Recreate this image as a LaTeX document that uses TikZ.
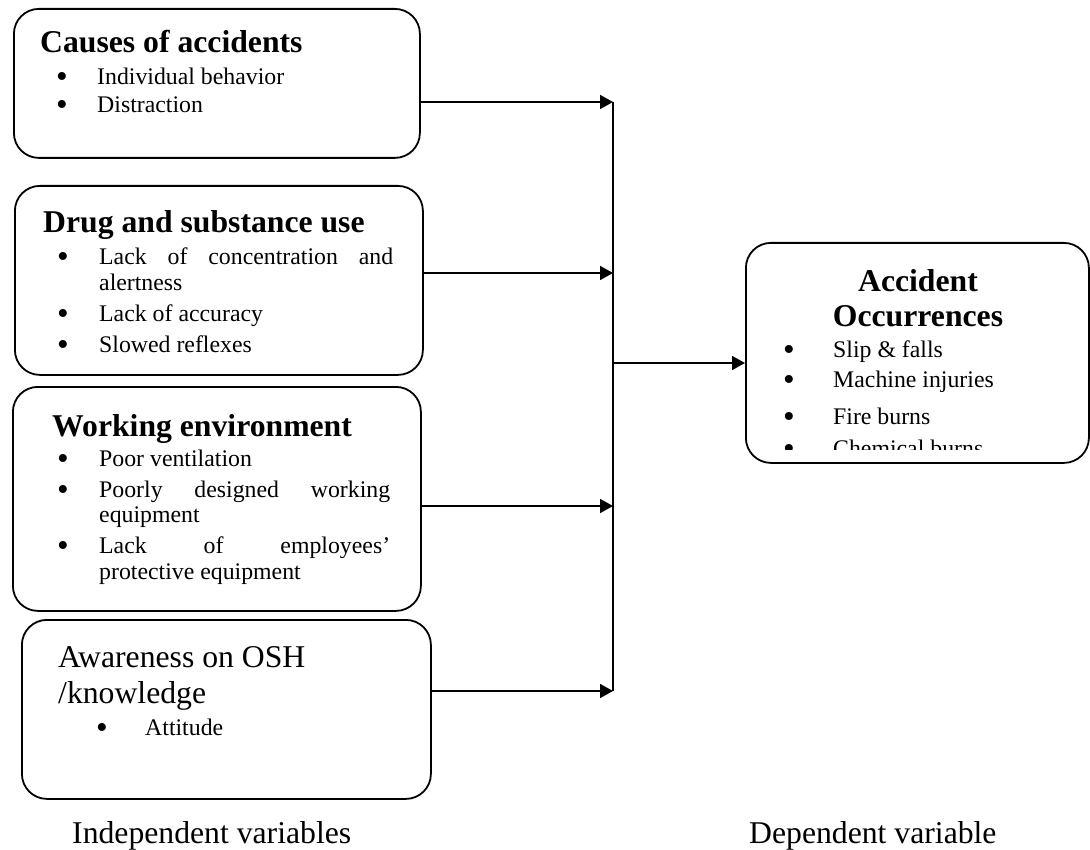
\documentclass[tikz,border=0pt]{standalone}
\usepackage{fontspec}
\setmainfont{Liberation Serif}
\usetikzlibrary{arrows.meta,positioning}

\newcommand{\headfont}{\fontsize{31.7pt}{35pt}\selectfont\bfseries}
\newcommand{\bigfont}{\fontsize{31.7pt}{36pt}\selectfont}
\newcommand{\itemfont}{\fontsize{23.8pt}{25.5pt}\selectfont}
\newcommand{\bulletmark}{\smash{\raisebox{-3pt}{\scalebox{1.4}{\textbullet}}}}
% one bullet item with hanging indent
\newcommand{\bul}[2][42pt]{\par\noindent\hangindent=#1\hangafter=1\makebox[#1][l]{\bulletmark}#2}
\newcommand{\itemlist}[3]{\parbox[t]{#1}{\tolerance=10000\hyphenpenalty=10000\setlength{\parskip}{#2}#3}}

\tikzset{
	varbox/.style={draw, line width=1.8pt, rounded corners=25pt, anchor=north west, inner sep=0pt},
	txt/.style={anchor=base west, inner sep=0pt},
	flow/.style={line width=1.8pt, -{Triangle[length=13pt,width=14pt]}},
	bus/.style={line width=1.8pt}
}

\begin{document}
\begin{tikzpicture}[x=1pt,y=-1pt]
	\useasboundingbox (0,0) rectangle (1090,850);

	% independent variables
	\node[varbox, minimum width=406pt, minimum height=149pt] (causes) at (13,8) {};
	\node[txt] (causeshead) at (40,53) {\headfont Causes of accidents};
	\node[txt] (causesitems) at (56,85) {\itemfont\itemlist{335pt}{2.5pt}{%
		\bul[41pt]{Individual behavior}
		\bul[41pt]{Distraction}}};

	\node[varbox, minimum width=408pt, minimum height=189pt] (drug) at (14,185) {};
	\node[txt] (drughead) at (43,233) {\headfont Drug and substance use};
	\node[txt] (drugitems) at (57,265) {\itemfont\itemlist{336pt}{5.5pt}{%
		\bul{Lack of concentration and\linebreak alertness}
		\bul{Lack of accuracy}
		\bul{Slowed reflexes}}};

	\node[varbox, minimum width=408pt, minimum height=224pt] (work) at (12,386) {};
	\node[txt] (workhead) at (52,436) {\headfont Working environment};
	\node[txt] (workitems) at (57,466) {\itemfont\itemlist{333pt}{5.5pt}{%
		\bul{Poor ventilation}
		\bul{Poorly designed working\linebreak equipment}
		\bul{Lack of employees'\linebreak protective equipment}}};

	\node[varbox, minimum width=409pt, minimum height=179pt] (aware) at (21,619) {};
	\node[txt] (awarehead) at (58,667) {\parbox[t]{330pt}{\bigfont Awareness on OSH\\/knowledge}};
	\node[txt] (awareitems) at (96,735) {\itemfont\makebox[49pt][l]{\bulletmark}Attitude};

	% dependent variable
	\node[varbox, minimum width=343pt, minimum height=220pt] (occ) at (745,242) {};
	\node[anchor=base, inner sep=0pt] (occhead) at (918,292) {\parbox[t]{320pt}{\centering\headfont Accident\\Occurrences}};
	\begin{scope}
		\clip (745,242) rectangle (1088,449);
		\node[txt] (occitems) at (783,358) {\itemfont\itemlist{290pt}{4.5pt}{%
			\bul[50pt]{Slip \& falls}
			\bul[50pt]{Machine injuries}
			\vspace{7pt}
			\bul[50pt]{Fire burns}
			\vspace{2pt}
			\bul[50pt]{Chemical burns}}};
	\end{scope}

	% connectors
	\coordinate (j1) at (613,102);
	\coordinate (j2) at (613,273);
	\coordinate (j3) at (613,506);
	\coordinate (j4) at (613,691);
	\coordinate (jm) at (613,363);
	\draw[flow] (causes.east |- j1) -- (j1);
	\draw[flow] (drug.east |- j2) -- (j2);
	\draw[flow] (work.east |- j3) -- (j3);
	\draw[flow] (aware.east |- j4) -- (j4);
	\draw[bus] (j1) -- (j4);
	\draw[flow] (jm) -- (occ.west |- jm);

	% captions
	\node[txt] (indep) at (72,843) {\bigfont Independent variables};
	\node[txt] (dep) at (749,843) {\bigfont Dependent variable};
\end{tikzpicture}
\end{document}
